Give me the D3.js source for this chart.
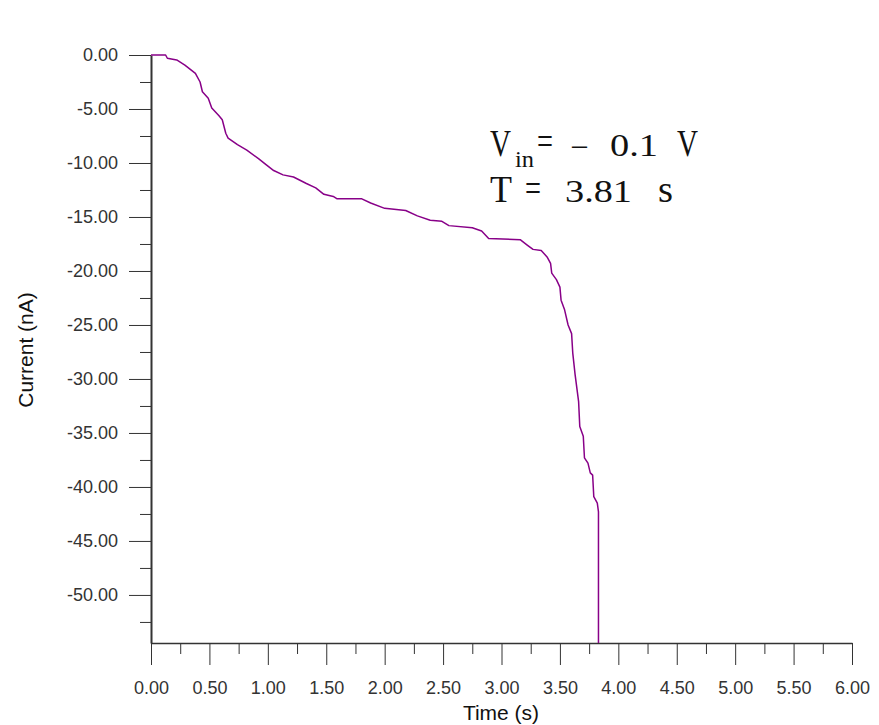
<!DOCTYPE html>
<html>
<head>
<meta charset="utf-8">
<script src="https://cdn.jsdelivr.net/npm/d3@7"></script>
<style>
  body { margin: 0; background: #fff; }
  .axis text { font-family: "Liberation Sans", Arial, sans-serif; font-size: 18px; fill: #333; }
  .axis line, .axis path { stroke: #333; }
  .axis-label { font-family: "Liberation Sans", Arial, sans-serif; font-size: 21px; fill: #111; }
  .note { font-family: "Liberation Serif", "Times New Roman", serif; fill: #111; }
</style>
</head>
<body>
<div id="chart"></div>
<script>
// Current trace (time in s, current in nA)
const times = [0, 0.125, 0.14, 0.22, 0.29, 0.38, 0.42, 0.44, 0.49, 0.52,
  0.58, 0.61, 0.64, 0.66, 0.74, 0.82, 0.92, 0.99, 1.05, 1.13,
  1.22, 1.33, 1.41, 1.48, 1.56, 1.59, 1.80, 1.88, 2.00, 2.18,
  2.28, 2.39, 2.49, 2.55, 2.75, 2.83, 2.89, 3.16, 3.22, 3.27,
  3.34, 3.39, 3.42, 3.43, 3.47, 3.50, 3.51, 3.54, 3.57, 3.60,
  3.61, 3.63, 3.66, 3.67, 3.70, 3.71, 3.74, 3.76, 3.78, 3.79,
  3.82, 3.83, 3.83];
const currents = [0, 0, -0.3, -0.46, -0.93, -1.7, -2.5, -3.4, -4.0, -4.9,
  -5.6, -6.0, -7.25, -7.7, -8.3, -8.8, -9.6, -10.2, -10.7, -11.1,
  -11.3, -11.9, -12.3, -12.9, -13.1, -13.3, -13.3, -13.7, -14.2, -14.4,
  -14.9, -15.3, -15.4, -15.8, -16.0, -16.3, -17.0, -17.1, -17.6, -18.0,
  -18.1, -18.7, -19.3, -20.2, -20.8, -21.5, -22.7, -23.6, -25.0, -25.8,
  -27.6, -29.6, -32.1, -34.4, -35.3, -37.3, -37.8, -38.7, -38.9, -40.9,
  -41.5, -42.3, -54.45];

// Axis ticks
const xMajor = [0, 0.5, 1, 1.5, 2, 2.5, 3, 3.5, 4, 4.5, 5, 5.5, 6];
const xMinor = [0.25, 0.75, 1.25, 1.75, 2.25, 2.75, 3.25, 3.75, 4.25, 4.75, 5.25, 5.75];
const yMajor = [0, -5, -10, -15, -20, -25, -30, -35, -40, -45, -50];
const yMinor = [-2.5, -7.5, -12.5, -17.5, -22.5, -27.5, -32.5, -37.5, -42.5, -47.5, -52.5];

const width = 879, height = 725;
const margin = { top: 55, right: 27, bottom: 82, left: 151 };

const svg = d3.select("#chart")
  .append("svg")
  .attr("width", width)
  .attr("height", height);

const x = d3.scaleLinear()
  .domain([0, 6])
  .range([margin.left, width - margin.right]);

const y = d3.scaleLinear()
  .domain([-54.45, 0])
  .range([height - margin.bottom, margin.top]);

const fmt = d => d.toFixed(2);

// minor ticks first
svg.append("g")
  .attr("class", "axis")
  .attr("transform", `translate(0,${height - margin.bottom})`)
  .call(d3.axisBottom(x).tickValues(xMinor).tickSize(11).tickSizeOuter(0).tickFormat(""))
  .call(g => g.select(".domain").remove());

svg.append("g")
  .attr("class", "axis")
  .attr("transform", `translate(${margin.left},0)`)
  .call(d3.axisLeft(y).tickValues(yMinor).tickSize(11).tickSizeOuter(0).tickFormat(""))
  .call(g => g.select(".domain").remove());

// major ticks + axis lines
svg.append("g")
  .attr("class", "axis")
  .attr("transform", `translate(0,${height - margin.bottom})`)
  .call(d3.axisBottom(x).tickValues(xMajor).tickSize(22).tickSizeOuter(0).tickPadding(16).tickFormat(fmt))
  .call(g => g.select(".domain").attr("stroke-width", 1.5))
  .call(g => g.selectAll("text").attr("font-size", null).attr("font-family", null));

svg.append("g")
  .attr("class", "axis")
  .attr("transform", `translate(${margin.left},0)`)
  .call(d3.axisLeft(y).tickValues(yMajor).tickSize(22).tickSizeOuter(0).tickPadding(11).tickFormat(fmt))
  .call(g => g.select(".domain").attr("stroke-width", 2).attr("stroke", "#555"))
  .call(g => g.selectAll("text").attr("font-size", null).attr("font-family", null));

// axis labels
svg.append("text")
  .attr("class", "axis-label")
  .attr("x", 501)
  .attr("y", 720)
  .style("text-anchor", "middle")
  .text("Time (s)");

svg.append("text")
  .attr("class", "axis-label")
  .attr("transform", "rotate(-90)")
  .attr("x", -350)
  .attr("y", 33)
  .style("text-anchor", "middle")
  .text("Current (nA)");

// the trace
const data = times.map((t, i) => ({ t: t, c: currents[i] }));

const line = d3.line()
  .x(d => x(d.t))
  .y(d => y(d.c));

svg.append("path")
  .datum(data)
  .attr("fill", "none")
  .attr("stroke", "#880088")
  .attr("stroke-width", 1.5)
  .attr("stroke-linejoin", "round")
  .attr("d", line);

// annotation
const note = svg.append("g").attr("class", "note");
function glyph(txt, gx, gy, size, len) {
  note.append("text")
    .attr("x", gx)
    .attr("y", gy)
    .attr("font-size", size)
    .attr("textLength", len)
    .attr("lengthAdjust", "spacingAndGlyphs")
    .text(txt);
}
glyph("V", 490, 156, 38, 21);
glyph("in", 515, 167, 24, 19);
glyph("=", 537, 154, 38, 16);
glyph("\u2014", 572, 155, 31, 15);
glyph("0.1", 610, 156, 31, 48);
glyph("V", 677, 156, 38, 21);
glyph("T", 490, 202, 38, 22);
glyph("=", 525, 201, 38, 16);
glyph("3.81", 565, 202, 31, 67);
glyph("s", 658, 202, 38, 15);
</script>
</body>
</html>
